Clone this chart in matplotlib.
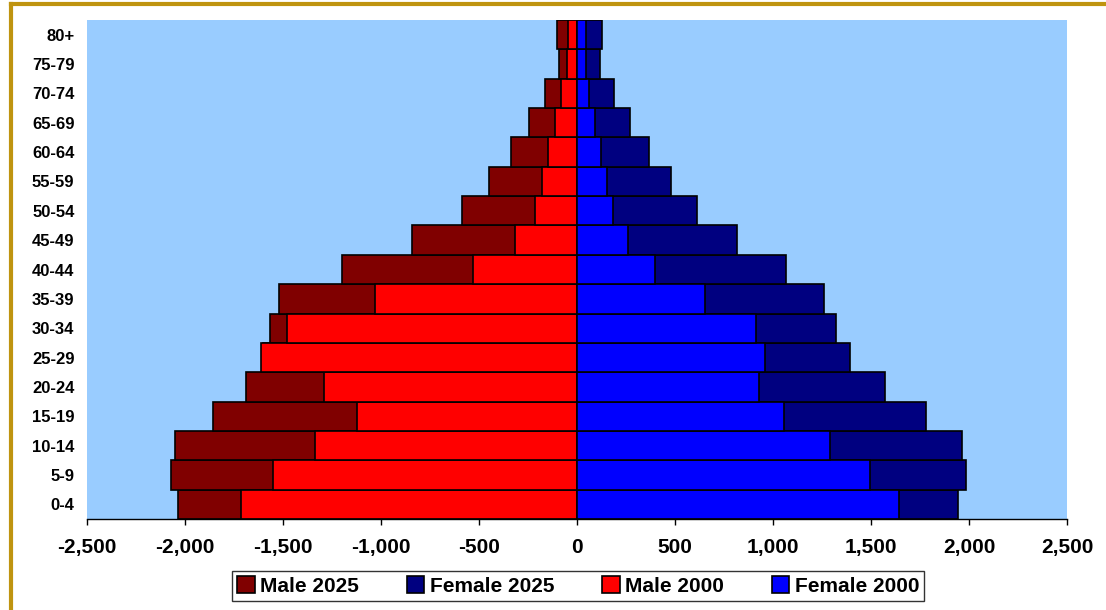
import numpy as np
import matplotlib
matplotlib.use("Agg")
import matplotlib.pyplot as plt
from matplotlib.lines import Line2D
from matplotlib.ticker import FuncFormatter

# Age groups, bottom to top
ages = ["0-4", "5-9", "10-14", "15-19", "20-24", "25-29", "30-34", "35-39",
        "40-44", "45-49", "50-54", "55-59", "60-64", "65-69", "70-74", "75-79", "80+"]

# population in thousands (male values negative)
male_2025 = [-2036, -2071, -2051, -1857, -1689, -1600, -1566, -1520,
             -1199, -842, -587, -449, -337, -245, -163, -92, -102]
male_2000 = [-1714, -1551, -1337, -1122, -1291, -1612, -1480, -1031,
             -531, -316, -214, -179, -148, -112, -82, -51, -46]
female_2025 = [1944, 1985, 1964, 1781, 1571, 1393, 1321, 1260,
               1066, 816, 612, 480, 367, 270, 189, 117, 128]
female_2000 = [1643, 1495, 1291, 1056, 929, 959, 913, 653,
               398, 260, 184, 153, 122, 92, 61, 46, 46]

plt.rcParams['font.family'] = ['Liberation Sans', 'DejaVu Sans']
plt.rcParams['font.weight'] = 'bold'

fig = plt.figure(figsize=(11.06, 6.10), dpi=100)
ax = fig.add_axes([87 / 1106, 91 / 610, 980 / 1106, 499 / 610])
ax.set_facecolor('#99CCFF')

y = np.arange(len(ages))
kw = dict(height=1.0, edgecolor='black', linewidth=1.2)
b1 = ax.barh(y, male_2025, color='#800000', label='Male 2025', **kw)
b2 = ax.barh(y, female_2025, color='#000080', label='Female 2025', **kw)
b3 = ax.barh(y, male_2000, color='#FF0000', label='Male 2000', **kw)
b4 = ax.barh(y, female_2000, color='#0000FF', label='Female 2000', **kw)

ax.set_xlim(-2500, 2500)
ax.set_ylim(-0.5, len(ages) - 0.5)
ax.set_xticks(np.arange(-2500, 2501, 500))
ax.xaxis.set_major_formatter(FuncFormatter(lambda v, p: f"{int(v):,}"))
ax.set_yticks(y)
ax.set_yticklabels(ages)
ax.tick_params(axis='x', direction='out', length=4.5, width=1, labelsize=15, pad=9)
ax.tick_params(axis='y', length=0, labelsize=12, pad=9)
for lab in ax.get_xticklabels() + ax.get_yticklabels():
    lab.set_fontweight('bold')

for s in ['top', 'right', 'left']:
    ax.spines[s].set_visible(False)
ax.spines['bottom'].set_linewidth(1)

leg = fig.legend(handles=[b1, b2, b3, b4], loc='center', bbox_to_anchor=(578 / 1106, 24 / 610),
                 ncol=4, frameon=True, fancybox=False, edgecolor='black',
                 prop={'weight': 'bold', 'size': 15}, handlelength=0.85, handleheight=0.85,
                 handletextpad=0.25, columnspacing=2.3, borderpad=0.25)
leg.get_frame().set_linewidth(1)

# gold frame on left and top edges
gold = '#BF9410'
fig.add_artist(Line2D([11 / 1106, 11 / 1106], [0, 1 - 4 / 610], transform=fig.transFigure,
                      color=gold, linewidth=3))
fig.add_artist(Line2D([11 / 1106, 1], [1 - 4 / 610, 1 - 4 / 610], transform=fig.transFigure,
                      color=gold, linewidth=3))

fig.savefig('out.png', dpi=100)
